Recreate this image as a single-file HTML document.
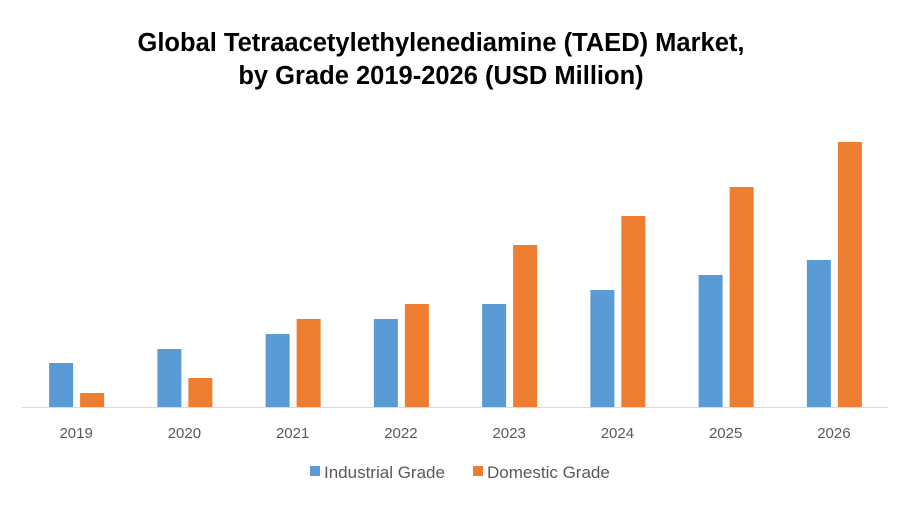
<!DOCTYPE html>
<html><head><meta charset="utf-8"><style>
body{margin:0;background:#fff;width:910px;height:504px;overflow:hidden;font-family:"Liberation Sans",sans-serif}
</style></head><body>
<svg width="910" height="504">
<text x="441" y="51" text-anchor="middle" font-size="25.5" font-weight="bold" fill="#000">Global Tetraacetylethylenediamine (TAED) Market,</text>
<text x="441" y="84" text-anchor="middle" font-size="25.5" font-weight="bold" fill="#000">by Grade 2019-2026 (USD Million)</text>
<g id="bars"></g>
<line x1="22" y1="407.5" x2="888" y2="407.5" stroke="#D9D9D9" stroke-width="1"/>
<g id="labels"></g>
<rect x="310" y="466" width="10" height="10" fill="#5B9BD5"/>
<text x="324" y="478" font-size="17" fill="#595959">Industrial Grade</text>
<rect x="473" y="466" width="10" height="10" fill="#ED7D31"/>
<text x="487" y="478" font-size="17" fill="#595959">Domestic Grade</text>
</svg>
<script>
const categories=["2019","2020","2021","2022","2023","2024","2025","2026"];
const industrial=[44,58,73,88,103,117,132,147];
const domestic=[14,29,88,103,162,191,220,265];
const NS="http://www.w3.org/2000/svg";
const x0=22,x1=888,base=407;
const bw=(x1-x0)/categories.length;
function xc(i){return x0+bw*(i+0.5);}
function y(v){return base-v;}
const gb=document.getElementById('bars'),gl=document.getElementById('labels');
categories.forEach((c,i)=>{
  [[industrial,'#5B9BD5',-27,'industrial'],[domestic,'#ED7D31',4,'domestic']].forEach(s=>{
    const r=document.createElementNS(NS,'rect');
    r.setAttribute('x',xc(i)+s[2]);r.setAttribute('width',24);
    r.setAttribute('y',y(s[0][i]));r.setAttribute('height',s[0][i]);
    r.setAttribute('fill',s[1]);
    
    
    gb.appendChild(r);
  });
  const t=document.createElementNS(NS,'text');
  t.setAttribute('x',xc(i));t.setAttribute('y',438);t.setAttribute('text-anchor','middle');
  t.setAttribute('font-size','15');t.setAttribute('fill','#595959');t.textContent=c;
  
  
  gl.appendChild(t);
});
</script>
</body></html>
